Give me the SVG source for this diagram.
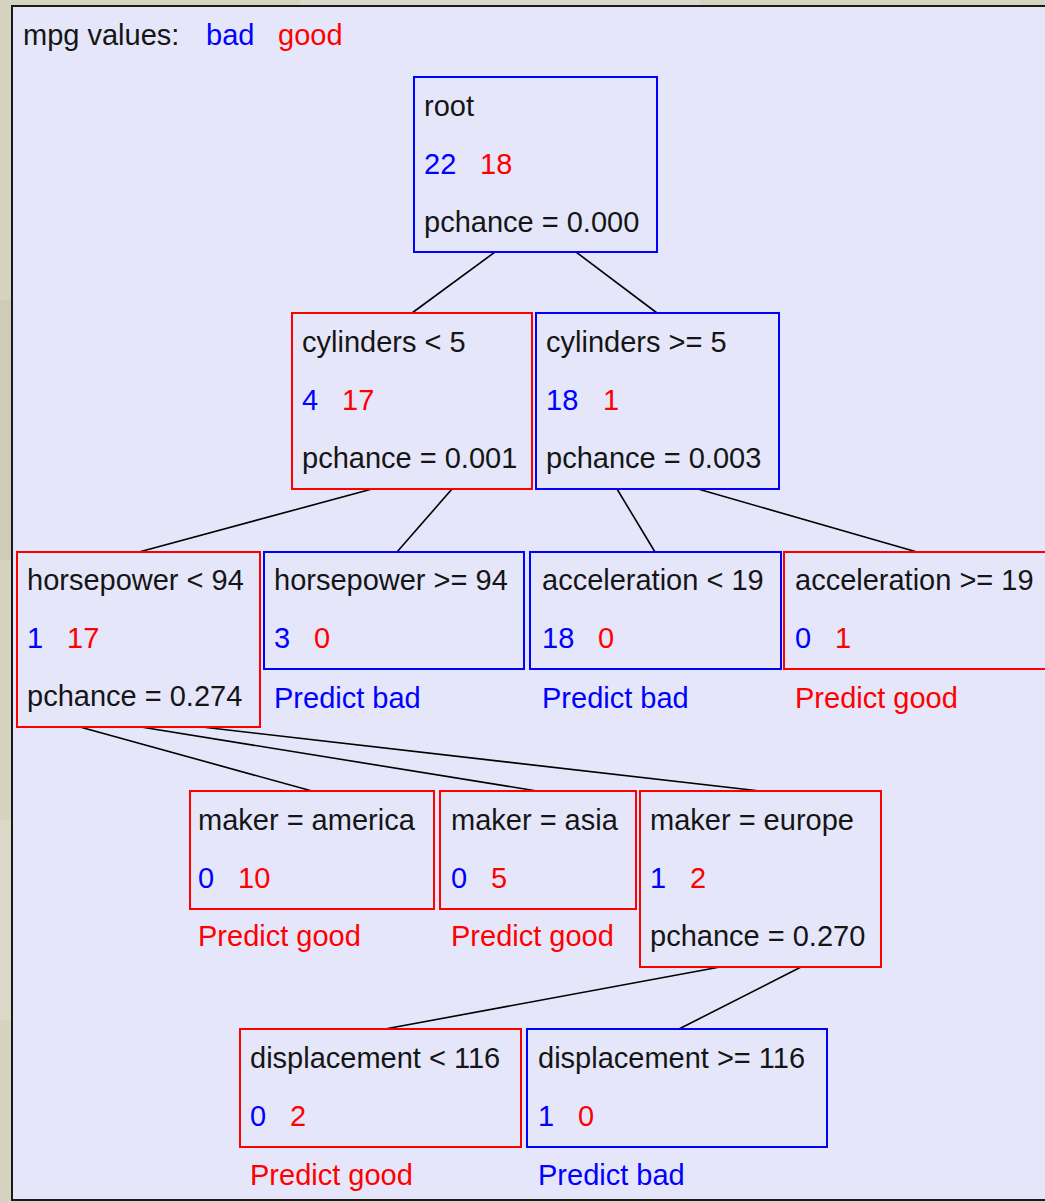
<svg xmlns="http://www.w3.org/2000/svg" width="1045" height="1202" viewBox="0 0 1045 1202">
  <defs>
    <style>
      text { font-family: "Liberation Sans", Arial, sans-serif; font-size: 29px; }
      .k { fill: #151515; }
      .b { fill: #0000FF; }
      .r { fill: #FF0000; }
      .nb { fill: none; stroke: #0000FF; stroke-width: 2; }
      .nr { fill: none; stroke: #FF0000; stroke-width: 2; }
      .edge { stroke: #000000; stroke-width: 1.6; fill: none; }
    </style>
  </defs>

  <!-- textured frame background -->
  <rect x="0" y="0" width="1045" height="1202" fill="#D7D3C1"/>
  <rect x="0" y="300" width="12" height="260" fill="#CFCBB8"/>
  <rect x="0" y="820" width="12" height="200" fill="#DCD8C8"/>
  <rect x="300" y="0" width="400" height="6" fill="#DDD9C9"/>

  <!-- panel -->
  <rect id="panel" x="12" y="6" width="1040" height="1194" fill="#E6E6FA" stroke="#1A1A1A" stroke-width="2"/>

  <!-- legend -->
  <g id="legend">
    <text class="k" x="23" y="45">mpg values:</text>
    <text class="b" x="206" y="45">bad</text>
    <text class="r" x="278" y="45">good</text>
  </g>

  <!-- connectors -->
  <g id="connectors">
    <line class="edge" x1="495" y1="252" x2="412" y2="313"/>
    <line class="edge" x1="576" y1="252" x2="657" y2="313"/>
    <line class="edge" x1="372" y1="489" x2="139" y2="552"/>
    <line class="edge" x1="452" y1="489" x2="397" y2="552"/>
    <line class="edge" x1="617" y1="489" x2="655" y2="552"/>
    <line class="edge" x1="698" y1="489" x2="917" y2="552"/>
    <line class="edge" x1="80" y1="727" x2="312" y2="791"/>
    <line class="edge" x1="141" y1="727" x2="537" y2="791"/>
    <line class="edge" x1="202" y1="727" x2="760" y2="791"/>
    <line class="edge" x1="720" y1="967" x2="385" y2="1029"/>
    <line class="edge" x1="801" y1="967" x2="679" y2="1029"/>
  </g>

  <g id="root">
    <rect class="nb" x="414" y="77" width="243" height="175"/>
    <text class="k" x="424" y="116">root</text>
    <text class="b" x="424" y="174">22</text>
    <text class="r" x="480" y="174">18</text>
    <text class="k" x="424" y="232">pchance = 0.000</text>
  </g>

  <g id="cyl-lt-5">
    <rect class="nr" x="292" y="313" width="240" height="176"/>
    <text class="k" x="302" y="352">cylinders &lt; 5</text>
    <text class="b" x="302" y="410">4</text>
    <text class="r" x="342" y="410">17</text>
    <text class="k" x="302" y="468">pchance = 0.001</text>
  </g>

  <g id="cyl-ge-5">
    <rect class="nb" x="536" y="313" width="243" height="176"/>
    <text class="k" x="546" y="352">cylinders &gt;= 5</text>
    <text class="b" x="546" y="410">18</text>
    <text class="r" x="603" y="410">1</text>
    <text class="k" x="546" y="468">pchance = 0.003</text>
  </g>

  <g id="hp-lt-94">
    <rect class="nr" x="17" y="552" width="243" height="175"/>
    <text class="k" x="27" y="590">horsepower &lt; 94</text>
    <text class="b" x="27" y="648">1</text>
    <text class="r" x="67" y="648">17</text>
    <text class="k" x="27" y="706">pchance = 0.274</text>
  </g>

  <g id="hp-ge-94">
    <rect class="nb" x="264" y="552" width="260" height="117"/>
    <text class="k" x="274" y="590">horsepower &gt;= 94</text>
    <text class="b" x="274" y="648">3</text>
    <text class="r" x="314" y="648">0</text>
    <text class="b" x="274" y="708">Predict bad</text>
  </g>

  <g id="acc-lt-19">
    <rect class="nb" x="530" y="552" width="251" height="117"/>
    <text class="k" x="542" y="590">acceleration &lt; 19</text>
    <text class="b" x="542" y="648">18</text>
    <text class="r" x="598" y="648">0</text>
    <text class="b" x="542" y="708">Predict bad</text>
  </g>

  <g id="acc-ge-19">
    <rect class="nr" x="784" y="552" width="266" height="117"/>
    <text class="k" x="795" y="590">acceleration &gt;= 19</text>
    <text class="b" x="795" y="648">0</text>
    <text class="r" x="835" y="648">1</text>
    <text class="r" x="795" y="708">Predict good</text>
  </g>

  <g id="maker-america">
    <rect class="nr" x="190" y="791" width="244" height="118"/>
    <text class="k" x="198" y="830">maker = america</text>
    <text class="b" x="198" y="888">0</text>
    <text class="r" x="238" y="888">10</text>
    <text class="r" x="198" y="946">Predict good</text>
  </g>

  <g id="maker-asia">
    <rect class="nr" x="440" y="791" width="196" height="118"/>
    <text class="k" x="451" y="830">maker = asia</text>
    <text class="b" x="451" y="888">0</text>
    <text class="r" x="491" y="888">5</text>
    <text class="r" x="451" y="946">Predict good</text>
  </g>

  <g id="maker-europe">
    <rect class="nr" x="640" y="791" width="241" height="176"/>
    <text class="k" x="650" y="830">maker = europe</text>
    <text class="b" x="650" y="888">1</text>
    <text class="r" x="690" y="888">2</text>
    <text class="k" x="650" y="946">pchance = 0.270</text>
  </g>

  <g id="disp-lt-116">
    <rect class="nr" x="240" y="1029" width="281" height="118"/>
    <text class="k" x="250" y="1068">displacement &lt; 116</text>
    <text class="b" x="250" y="1126">0</text>
    <text class="r" x="290" y="1126">2</text>
    <text class="r" x="250" y="1185">Predict good</text>
  </g>

  <g id="disp-ge-116">
    <rect class="nb" x="527" y="1029" width="300" height="118"/>
    <text class="k" x="538" y="1068">displacement &gt;= 116</text>
    <text class="b" x="538" y="1126">1</text>
    <text class="r" x="578" y="1126">0</text>
    <text class="b" x="538" y="1185">Predict bad</text>
  </g>
</svg>
